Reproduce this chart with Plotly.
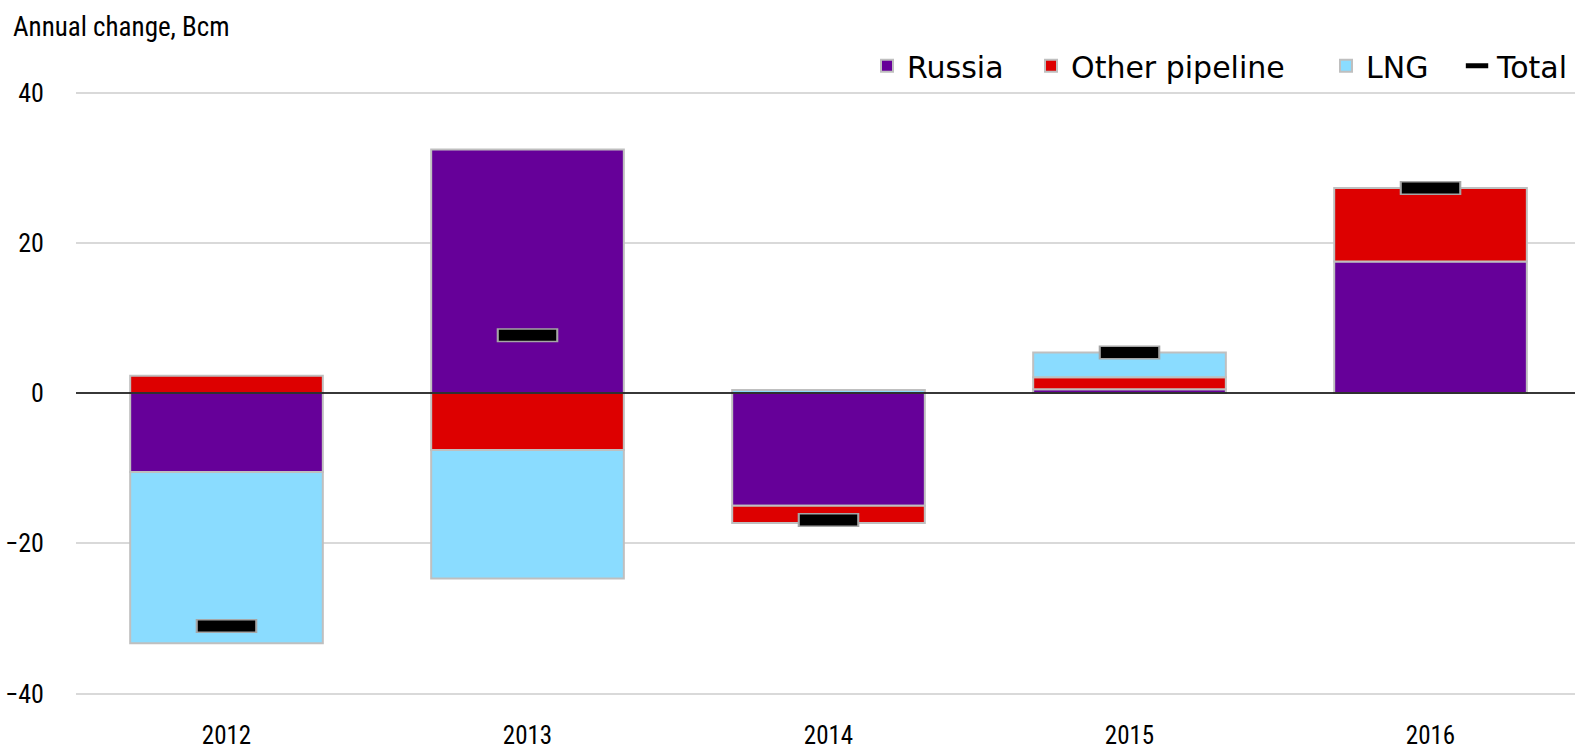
import plotly.graph_objects as go

years = ["2012", "2013", "2014", "2015", "2016"]
russia = [-10.5, 32.4, -15.0, 0.5, 17.5]
other_pipeline = [2.3, -7.6, -2.3, 1.6, 9.8]
lng = [-22.8, -17.1, 0.4, 3.3, 0.0]
total = [-31.0, 7.7, -16.9, 5.4, 27.3]
y_ticks = [-40, -20, 0, 20, 40]

NARROW = "Roboto Condensed, DejaVu Sans Condensed, sans-serif"
LEGEND_FONT = "DejaVu Sans, Verdana, sans-serif"
EDGE = "#BFBFBF"

fig = go.Figure()
for name, vals, col, lw in [("Russia", russia, "#660099", 119),
                            ("Other pipeline", other_pipeline, "#DD0000", 250),
                            ("LNG", lng, "#8ADCFF", 86)]:
    fig.add_trace(go.Bar(x=years, y=vals, name=name, legendwidth=lw,
                         marker=dict(color=col, line=dict(color=EDGE, width=2)),
                         width=0.64))

# gray outline behind the total marker
fig.add_trace(go.Scatter(x=years, y=total, mode="markers", showlegend=False,
                         hoverinfo="skip",
                         marker=dict(symbol="line-ew", size=44,
                                     line=dict(color="#A6A6A6", width=14))))
fig.add_trace(go.Scatter(x=years, y=total, mode="markers", name="Total",
                         legendwidth=80,
                         marker=dict(symbol="line-ew", size=41, color="black",
                                     line=dict(color="black", width=11))))

fig.add_shape(type="line", xref="paper", x0=0, x1=1, yref="y", y0=0, y1=0,
              line=dict(color="black", width=1.5), layer="above")

fig.update_layout(
    width=1575, height=755,
    margin=dict(l=76, r=0, t=91, b=60, autoexpand=False),
    paper_bgcolor="white", plot_bgcolor="white",
    barmode="relative", bargap=0.36,
    title=dict(text="Annual change, Bcm", xref="container", yref="container",
               x=13 / 1575, xanchor="left", y=1 - 27 / 755, yanchor="middle",
               font=dict(family=NARROW, size=27, color="black")),
    legend=dict(orientation="h", x=0.5277, xanchor="left", y=1.0417,
                yanchor="middle", font=dict(family=LEGEND_FONT, size=30,
                                            color="black"),
                bgcolor="rgba(0,0,0,0)", traceorder="normal"),
    xaxis=dict(type="category", range=[-0.5, 4.48], showgrid=False,
               showline=False, ticks="outside", ticklen=18,
               tickcolor="rgba(0,0,0,0)",
               tickfont=dict(family=NARROW, size=25, color="black")),
    yaxis=dict(range=[-40.2, 40.2], tickvals=y_ticks, showgrid=True,
               gridcolor="#D9D9D9", gridwidth=1.5, zeroline=False,
               showline=False, ticks="outside", ticklen=26,
               tickcolor="rgba(0,0,0,0)",
               tickfont=dict(family=NARROW, size=26, color="black")),
    showlegend=True,
)

fig.write_html("out.html", config={"displayModeBar": False},
               post_script="document.body.style.margin='0';document.body.style.padding='0';document.body.style.overflow='hidden';")
